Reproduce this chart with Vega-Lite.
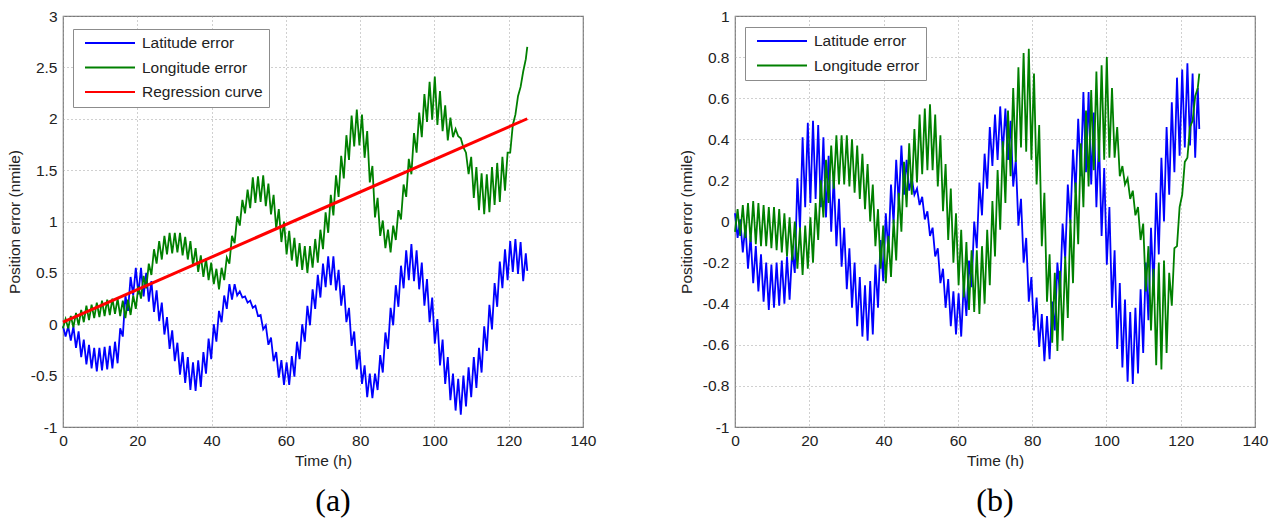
{
"$schema":"https://vega.github.io/schema/vega-lite/v6.json",
"background":"white",
"padding":{"left":6,"top":8,"right":5,"bottom":5},
"datasets":{
"d":[
{"t":0,"la":-0.02,"lo":-0.04,"lb":0.04,"ob":-0.05},
{"t":0.7,"la":-0.12,"lo":0.05,"lb":-0.08,"ob":0.06},
{"t":1.4,"la":-0.02,"lo":-0.04,"lb":0.01,"ob":-0.07},
{"t":2.1,"la":-0.16,"lo":0.08,"lb":-0.15,"ob":0.08},
{"t":2.8,"la":-0.02,"lo":-0.03,"lb":-0.02,"ob":-0.08},
{"t":3.5,"la":-0.23,"lo":0.11,"lb":-0.23,"ob":0.09},
{"t":4.2,"la":-0.07,"lo":-0.01,"lb":-0.07,"ob":-0.10},
{"t":4.9,"la":-0.32,"lo":0.14,"lb":-0.30,"ob":0.10},
{"t":5.6,"la":-0.15,"lo":0.02,"lb":-0.12,"ob":-0.11},
{"t":6.3,"la":-0.39,"lo":0.18,"lb":-0.34,"ob":0.09},
{"t":7,"la":-0.20,"lo":0.04,"lb":-0.16,"ob":-0.12},
{"t":7.7,"la":-0.43,"lo":0.19,"lb":-0.39,"ob":0.08},
{"t":8.4,"la":-0.23,"lo":0.06,"lb":-0.20,"ob":-0.12},
{"t":9.1,"la":-0.46,"lo":0.21,"lb":-0.43,"ob":0.07},
{"t":9.8,"la":-0.23,"lo":0.07,"lb":-0.21,"ob":-0.13},
{"t":10.5,"la":-0.45,"lo":0.23,"lb":-0.42,"ob":0.07},
{"t":11.2,"la":-0.22,"lo":0.08,"lb":-0.20,"ob":-0.14},
{"t":11.9,"la":-0.44,"lo":0.24,"lb":-0.41,"ob":0.06},
{"t":12.6,"la":-0.21,"lo":0.09,"lb":-0.19,"ob":-0.15},
{"t":13.3,"la":-0.43,"lo":0.25,"lb":-0.40,"ob":0.04},
{"t":14,"la":-0.17,"lo":0.10,"lb":-0.17,"ob":-0.17},
{"t":14.7,"la":-0.38,"lo":0.25,"lb":-0.38,"ob":0.02},
{"t":15.4,"la":-0.04,"lo":0.08,"lb":-0.14,"ob":-0.19},
{"t":16.1,"la":-0.12,"lo":0.23,"lb":-0.25,"ob":0.00},
{"t":16.8,"la":0.28,"lo":0.06,"lb":0.21,"ob":-0.23},
{"t":17.5,"la":0.13,"lo":0.24,"lb":-0.04,"ob":-0.03},
{"t":18.2,"la":0.46,"lo":0.09,"lb":0.41,"ob":-0.26},
{"t":18.9,"la":0.28,"lo":0.28,"lb":0.07,"ob":-0.02},
{"t":19.6,"la":0.55,"lo":0.15,"lb":0.48,"ob":-0.23},
{"t":20.3,"la":0.29,"lo":0.37,"lb":0.09,"ob":0.02},
{"t":21,"la":0.55,"lo":0.25,"lb":0.49,"ob":-0.20},
{"t":21.7,"la":0.27,"lo":0.47,"lb":0.11,"ob":0.09},
{"t":22.4,"la":0.50,"lo":0.35,"lb":0.47,"ob":-0.09},
{"t":23.1,"la":0.22,"lo":0.59,"lb":0.07,"ob":0.20},
{"t":23.8,"la":0.42,"lo":0.48,"lb":0.41,"ob":0.02},
{"t":24.5,"la":0.12,"lo":0.73,"lb":0.02,"ob":0.30},
{"t":25.2,"la":0.33,"lo":0.59,"lb":0.32,"ob":0.09},
{"t":25.9,"la":0.03,"lo":0.81,"lb":-0.05,"ob":0.37},
{"t":26.6,"la":0.21,"lo":0.63,"lb":0.22,"ob":0.16},
{"t":27.3,"la":-0.10,"lo":0.86,"lb":-0.12,"ob":0.42},
{"t":28,"la":0.07,"lo":0.68,"lb":0.11,"ob":0.18},
{"t":28.7,"la":-0.24,"lo":0.89,"lb":-0.22,"ob":0.42},
{"t":29.4,"la":-0.06,"lo":0.69,"lb":-0.03,"ob":0.18},
{"t":30.1,"la":-0.36,"lo":0.89,"lb":-0.33,"ob":0.42},
{"t":30.8,"la":-0.18,"lo":0.70,"lb":-0.13,"ob":0.17},
{"t":31.5,"la":-0.49,"lo":0.89,"lb":-0.42,"ob":0.40},
{"t":32.2,"la":-0.27,"lo":0.67,"lb":-0.20,"ob":0.14},
{"t":32.9,"la":-0.57,"lo":0.85,"lb":-0.51,"ob":0.37},
{"t":33.6,"la":-0.32,"lo":0.63,"lb":-0.27,"ob":0.11},
{"t":34.3,"la":-0.64,"lo":0.81,"lb":-0.56,"ob":0.33},
{"t":35,"la":-0.37,"lo":0.57,"lb":-0.31,"ob":0.06},
{"t":35.7,"la":-0.65,"lo":0.74,"lb":-0.58,"ob":0.28},
{"t":36.4,"la":-0.35,"lo":0.51,"lb":-0.29,"ob":0.00},
{"t":37.1,"la":-0.61,"lo":0.67,"lb":-0.55,"ob":0.18},
{"t":37.8,"la":-0.27,"lo":0.46,"lb":-0.21,"ob":-0.12},
{"t":38.5,"la":-0.48,"lo":0.64,"lb":-0.42,"ob":0.06},
{"t":39.2,"la":-0.14,"lo":0.43,"lb":-0.09,"ob":-0.23},
{"t":39.9,"la":-0.34,"lo":0.60,"lb":-0.29,"ob":-0.02},
{"t":40.6,"la":0.00,"lo":0.39,"lb":0.04,"ob":-0.30},
{"t":41.3,"la":-0.17,"lo":0.54,"lb":-0.15,"ob":-0.07},
{"t":42,"la":0.13,"lo":0.34,"lb":0.18,"ob":-0.27},
{"t":42.7,"la":0.02,"lo":0.55,"lb":-0.01,"ob":0.01},
{"t":43.4,"la":0.28,"lo":0.43,"lb":0.30,"ob":-0.19},
{"t":44.1,"la":0.15,"lo":0.65,"lb":0.08,"ob":0.14},
{"t":44.8,"la":0.39,"lo":0.59,"lb":0.37,"ob":-0.05},
{"t":45.5,"la":0.24,"lo":0.86,"lb":0.13,"ob":0.29},
{"t":46.2,"la":0.39,"lo":0.79,"lb":0.30,"ob":0.07},
{"t":46.9,"la":0.28,"lo":1.05,"lb":0.15,"ob":0.38},
{"t":47.6,"la":0.32,"lo":0.96,"lb":0.21,"ob":0.13},
{"t":48.3,"la":0.26,"lo":1.21,"lb":0.13,"ob":0.45},
{"t":49,"la":0.27,"lo":1.08,"lb":0.16,"ob":0.19},
{"t":49.7,"la":0.21,"lo":1.31,"lb":0.08,"ob":0.52},
{"t":50.4,"la":0.23,"lo":1.13,"lb":0.12,"ob":0.23},
{"t":51.1,"la":0.16,"lo":1.43,"lb":0.01,"ob":0.55},
{"t":51.8,"la":0.18,"lo":1.18,"lb":0.05,"ob":0.25},
{"t":52.5,"la":0.08,"lo":1.44,"lb":-0.07,"ob":0.57},
{"t":53.2,"la":0.09,"lo":1.19,"lb":-0.03,"ob":0.25},
{"t":53.9,"la":-0.05,"lo":1.45,"lb":-0.17,"ob":0.52},
{"t":54.6,"la":-0.01,"lo":1.15,"lb":-0.13,"ob":0.17},
{"t":55.3,"la":-0.20,"lo":1.37,"lb":-0.30,"ob":0.42},
{"t":56,"la":-0.13,"lo":1.07,"lb":-0.23,"ob":0.05},
{"t":56.7,"la":-0.36,"lo":1.26,"lb":-0.42,"ob":0.28},
{"t":57.4,"la":-0.27,"lo":0.93,"lb":-0.28,"ob":-0.09},
{"t":58.1,"la":-0.52,"lo":1.12,"lb":-0.51,"ob":0.16},
{"t":58.8,"la":-0.35,"lo":0.80,"lb":-0.34,"ob":-0.20},
{"t":59.5,"la":-0.59,"lo":1.00,"lb":-0.55,"ob":0.04},
{"t":60.2,"la":-0.37,"lo":0.68,"lb":-0.35,"ob":-0.31},
{"t":60.9,"la":-0.59,"lo":0.91,"lb":-0.56,"ob":-0.04},
{"t":61.6,"la":-0.31,"lo":0.62,"lb":-0.30,"ob":-0.37},
{"t":62.3,"la":-0.51,"lo":0.84,"lb":-0.46,"ob":-0.10},
{"t":63,"la":-0.17,"lo":0.56,"lb":-0.19,"ob":-0.43},
{"t":63.7,"la":-0.34,"lo":0.79,"lb":-0.32,"ob":-0.14},
{"t":64.4,"la":0.00,"lo":0.53,"lb":0.00,"ob":-0.44},
{"t":65.1,"la":-0.17,"lo":0.76,"lb":-0.13,"ob":-0.14},
{"t":65.8,"la":0.18,"lo":0.50,"lb":0.19,"ob":-0.45},
{"t":66.5,"la":-0.01,"lo":0.76,"lb":0.03,"ob":-0.12},
{"t":67.2,"la":0.34,"lo":0.55,"lb":0.33,"ob":-0.40},
{"t":67.9,"la":0.15,"lo":0.83,"lb":0.16,"ob":-0.04},
{"t":68.6,"la":0.48,"lo":0.60,"lb":0.46,"ob":-0.31},
{"t":69.3,"la":0.26,"lo":0.92,"lb":0.27,"ob":0.10},
{"t":70,"la":0.59,"lo":0.73,"lb":0.52,"ob":-0.17},
{"t":70.7,"la":0.36,"lo":1.09,"lb":0.30,"ob":0.25},
{"t":71.4,"la":0.66,"lo":0.89,"lb":0.56,"ob":-0.04},
{"t":72.1,"la":0.38,"lo":1.26,"lb":0.33,"ob":0.39},
{"t":72.8,"la":0.66,"lo":1.06,"lb":0.55,"ob":0.09},
{"t":73.5,"la":0.33,"lo":1.45,"lb":0.30,"ob":0.54},
{"t":74.2,"la":0.53,"lo":1.24,"lb":0.49,"ob":0.22},
{"t":74.9,"la":0.18,"lo":1.64,"lb":0.17,"ob":0.65},
{"t":75.6,"la":0.38,"lo":1.42,"lb":0.30,"ob":0.29},
{"t":76.3,"la":0.02,"lo":1.84,"lb":-0.02,"ob":0.75},
{"t":77,"la":0.16,"lo":1.60,"lb":0.11,"ob":0.36},
{"t":77.7,"la":-0.21,"lo":2.03,"lb":-0.20,"ob":0.82},
{"t":78.4,"la":-0.07,"lo":1.73,"lb":-0.08,"ob":0.34},
{"t":79.1,"la":-0.44,"lo":2.09,"lb":-0.39,"ob":0.84},
{"t":79.8,"la":-0.25,"lo":1.74,"lb":-0.27,"ob":0.30},
{"t":80.5,"la":-0.58,"lo":2.04,"lb":-0.53,"ob":0.72},
{"t":81.2,"la":-0.40,"lo":1.62,"lb":-0.37,"ob":0.18},
{"t":81.9,"la":-0.71,"lo":1.88,"lb":-0.61,"ob":0.47},
{"t":82.6,"la":-0.48,"lo":1.38,"lb":-0.45,"ob":-0.12},
{"t":83.3,"la":-0.72,"lo":1.54,"lb":-0.68,"ob":0.14},
{"t":84,"la":-0.48,"lo":1.04,"lb":-0.46,"ob":-0.39},
{"t":84.7,"la":-0.64,"lo":1.23,"lb":-0.67,"ob":-0.16},
{"t":85.4,"la":-0.30,"lo":0.86,"lb":-0.39,"ob":-0.59},
{"t":86.1,"la":-0.47,"lo":1.01,"lb":-0.53,"ob":-0.25},
{"t":86.8,"la":-0.08,"lo":0.74,"lb":-0.20,"ob":-0.63},
{"t":87.5,"la":-0.24,"lo":0.92,"lb":-0.36,"ob":-0.24},
{"t":88.2,"la":0.16,"lo":0.70,"lb":-0.01,"ob":-0.58},
{"t":88.9,"la":-0.01,"lo":0.96,"lb":-0.18,"ob":-0.17},
{"t":89.6,"la":0.38,"lo":0.82,"lb":0.18,"ob":-0.47},
{"t":90.3,"la":0.17,"lo":1.11,"lb":-0.01,"ob":0.01},
{"t":91,"la":0.57,"lo":1.02,"lb":0.35,"ob":-0.30},
{"t":91.7,"la":0.35,"lo":1.36,"lb":0.14,"ob":0.19},
{"t":92.4,"la":0.72,"lo":1.24,"lb":0.50,"ob":-0.11},
{"t":93.1,"la":0.43,"lo":1.61,"lb":0.22,"ob":0.38},
{"t":93.8,"la":0.78,"lo":1.46,"lb":0.63,"ob":0.07},
{"t":94.5,"la":0.42,"lo":1.86,"lb":0.24,"ob":0.54},
{"t":95.2,"la":0.72,"lo":1.67,"lb":0.63,"ob":0.17},
{"t":95.9,"la":0.34,"lo":2.06,"lb":0.18,"ob":0.64},
{"t":96.6,"la":0.60,"lo":1.82,"lb":0.53,"ob":0.25},
{"t":97.3,"la":0.18,"lo":2.24,"lb":0.07,"ob":0.73},
{"t":98,"la":0.44,"lo":1.97,"lb":0.40,"ob":0.29},
{"t":98.7,"la":0.02,"lo":2.36,"lb":-0.07,"ob":0.76},
{"t":99.4,"la":0.26,"lo":1.99,"lb":0.26,"ob":0.30},
{"t":100.1,"la":-0.19,"lo":2.41,"lb":-0.21,"ob":0.80},
{"t":100.8,"la":0.05,"lo":1.94,"lb":0.07,"ob":0.31},
{"t":101.5,"la":-0.40,"lo":2.27,"lb":-0.42,"ob":0.65},
{"t":102.2,"la":-0.15,"lo":1.88,"lb":-0.14,"ob":0.31},
{"t":102.9,"la":-0.58,"lo":2.13,"lb":-0.62,"ob":0.46},
{"t":103.6,"la":-0.32,"lo":1.79,"lb":-0.30,"ob":0.22},
{"t":104.3,"la":-0.74,"lo":2.01,"lb":-0.71,"ob":0.27},
{"t":105,"la":-0.48,"lo":1.82,"lb":-0.38,"ob":0.18},
{"t":105.7,"la":-0.84,"lo":1.90,"lb":-0.78,"ob":0.21},
{"t":106.4,"la":-0.53,"lo":1.83,"lb":-0.44,"ob":0.11},
{"t":107.1,"la":-0.88,"lo":1.81,"lb":-0.79,"ob":0.15},
{"t":107.8,"la":-0.50,"lo":1.72,"lb":-0.42,"ob":0.03},
{"t":108.5,"la":-0.80,"lo":1.67,"lb":-0.74,"ob":0.07},
{"t":109.2,"la":-0.42,"lo":1.46,"lb":-0.33,"ob":-0.09},
{"t":109.9,"la":-0.71,"lo":1.63,"lb":-0.64,"ob":-0.01},
{"t":110.6,"la":-0.32,"lo":1.23,"lb":-0.20,"ob":-0.34},
{"t":111.3,"la":-0.62,"lo":1.53,"lb":-0.48,"ob":-0.12},
{"t":112,"la":-0.23,"lo":1.11,"lb":-0.03,"ob":-0.53},
{"t":112.7,"la":-0.47,"lo":1.47,"lb":-0.33,"ob":-0.23},
{"t":113.4,"la":-0.02,"lo":1.07,"lb":0.14,"ob":-0.70},
{"t":114.1,"la":-0.26,"lo":1.46,"lb":-0.16,"ob":-0.20},
{"t":114.8,"la":0.19,"lo":1.09,"lb":0.31,"ob":-0.72},
{"t":115.5,"la":-0.05,"lo":1.53,"lb":0.00,"ob":-0.19},
{"t":116.2,"la":0.40,"lo":1.16,"lb":0.46,"ob":-0.64},
{"t":116.9,"la":0.17,"lo":1.57,"lb":0.13,"ob":-0.25},
{"t":117.6,"la":0.61,"lo":1.19,"lb":0.58,"ob":-0.41},
{"t":118.3,"la":0.35,"lo":1.63,"lb":0.24,"ob":-0.13},
{"t":119,"la":0.73,"lo":1.30,"lb":0.70,"ob":-0.12},
{"t":119.7,"la":0.43,"lo":1.67,"lb":0.32,"ob":0.07},
{"t":120.4,"la":0.81,"lo":1.67,"lb":0.74,"ob":0.13},
{"t":121.1,"la":0.51,"lo":1.94,"lb":0.36,"ob":0.29},
{"t":121.8,"la":0.83,"lo":2.04,"lb":0.77,"ob":0.31},
{"t":122.5,"la":0.49,"lo":2.22,"lb":0.37,"ob":0.46},
{"t":123.2,"la":0.80,"lo":2.31,"lb":0.72,"ob":0.49},
{"t":123.9,"la":0.42,"lo":2.46,"lb":0.31,"ob":0.61},
{"t":124.6,"la":0.69,"lo":2.58,"lb":0.65,"ob":0.65},
{"t":125,"la":0.52,"lo":2.70,"lb":0.45,"ob":0.72}
],
"reg":[{"t":0,"v":0.02},{"t":125,"v":2.0}]
},
"hconcat":[
{
"width":520,"height":411,
"title":{"text":"(a)","orient":"bottom","anchor":"middle","font":"Liberation Serif","fontSize":32,"fontWeight":"normal","color":"black","offset":17,"dx":10},
"layer":[
{
"data":{"name":"d"},
"transform":[{"fold":["la","lo"],"as":["k","v"]}],
"mark":{"type":"line","strokeWidth":1.8},
"encoding":{
"x":{"field":"t","type":"quantitative","scale":{"domain":[0,140],"nice":false},"axis":{"values":[0,20,40,60,80,100,120,140],"title":"Time (h)"}},
"y":{"field":"v","type":"quantitative","scale":{"domain":[-1,3],"nice":false},"axis":{"values":[-1,-0.5,0,0.5,1,1.5,2,2.5,3],"title":"Position error (nmile)","labelExpr":"''+datum.value"}},
"color":{"field":"k","type":"nominal","scale":{"domain":["la","lo","rg"],"range":["#0000ff","#008000","#ff0000"]},
"legend":{"orient":"none","legendX":10,"legendY":13,"title":null,"labelExpr":"datum.label=='la'?'Latitude error':datum.label=='lo'?'Longitude error':'Regression curve'"}}
}
},
{
"data":{"name":"reg"},
"mark":{"type":"line","strokeWidth":3},
"encoding":{
"x":{"field":"t","type":"quantitative"},
"y":{"field":"v","type":"quantitative"},
"color":{"datum":"rg"}
}
}
]
},
{
"width":520,"height":411,
"title":{"text":"(b)","orient":"bottom","anchor":"middle","font":"Liberation Serif","fontSize":32,"fontWeight":"normal","color":"black","offset":17,"dx":0},
"data":{"name":"d"},
"transform":[{"fold":["lb","ob"],"as":["k","v"]}],
"mark":{"type":"line","strokeWidth":1.8},
"encoding":{
"x":{"field":"t","type":"quantitative","scale":{"domain":[0,140],"nice":false},"axis":{"values":[0,20,40,60,80,100,120,140],"title":"Time (h)"}},
"y":{"field":"v","type":"quantitative","scale":{"domain":[-1,1],"nice":false},"axis":{"values":[-1,-0.8,-0.6,-0.4,-0.2,0,0.2,0.4,0.6,0.8,1],"title":"Position error (nmile)","labelExpr":"''+datum.value"}},
"color":{"field":"k","type":"nominal","scale":{"domain":["lb","ob"],"range":["#0000ff","#008000"]},
"legend":{"orient":"none","legendX":10,"legendY":11,"title":null,"labelExpr":"datum.label=='lb'?'Latitude error':'Longitude error'"}}
}
}
],
"spacing":81,
"resolve":{"scale":{"color":"independent","x":"independent","y":"independent"},"legend":{"color":"independent"}},
"config":{
"font":"Liberation Sans",
"view":{"stroke":"#7a7a7a","strokeWidth":1.2},
"axis":{"domain":false,"ticks":false,"grid":true,"gridDash":[1,3],"gridColor":"#a0a0a0","gridWidth":1,"labelFont":"Liberation Sans","labelFontSize":15.5,"labelColor":"#222222","labelFlush":false,"labelOverlap":false,"labelPadding":6,"titleFont":"Liberation Sans","titleFontSize":15.5,"titleFontWeight":"normal","titleColor":"#222222"},
"axisX":{"titlePadding":5},
"axisY":{"titlePadding":8},
"legend":{"symbolType":"stroke","symbolSize":2500,"symbolStrokeWidth":2,"clipHeight":16,"labelFont":"Liberation Sans","labelFontSize":15.5,"labelColor":"#222222","fillColor":"white","strokeColor":"#8c8c8c","padding":6,"rowPadding":7.5,"labelOffset":6,"symbolOffset":5,"cornerRadius":0}
}
}
